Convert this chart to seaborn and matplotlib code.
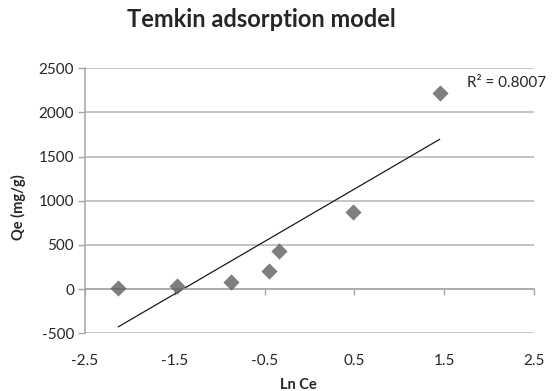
import numpy as np
import pandas as pd
import matplotlib
matplotlib.use('Agg')
import matplotlib.pyplot as plt
import seaborn as sns

# values
ln_ce = [-2.13, -1.48, -0.87, -0.45, -0.34, 0.48, 1.45]
qe = [18, 41, 86, 207, 433, 871, 2217]
r2_label = 'R² = 0.8007'
x_ticks = [-2.5, -1.5, -0.5, 0.5, 1.5, 2.5]
y_ticks = [-500, 0, 500, 1000, 1500, 2000, 2500]

df = pd.DataFrame({'Ln Ce': ln_ce, 'Qe': qe})

sns.set_style('white')
plt.rcParams['font.family'] = ['Lato', 'DejaVu Sans']

W, H = 552, 391
fig = plt.figure(figsize=(W / 100, H / 100), dpi=100)
ax = fig.add_axes([85 / W, 1 - 333.3 / H, 449 / W, 265 / H])

sns.regplot(data=df, x='Ln Ce', y='Qe', ci=None, ax=ax, marker='D',
            scatter_kws={'s': 68, 'color': '#5f5f5f', 'linewidths': 0, 'zorder': 3},
            line_kws={'color': '#1a1a1a', 'lw': 0.9, 'zorder': 2})

ax.set_xlim(-2.5, 2.5)
ax.set_ylim(-500, 2500)
ax.set_xticks(x_ticks)
ax.set_yticks(y_ticks)
ax.set_xticklabels([f'{t:g}' for t in x_ticks])
ax.set_yticklabels([str(t) for t in y_ticks])
ax.set_xlabel('')
ax.set_ylabel('')

ax.yaxis.grid(True, color='#b4b4b4', lw=1.1)
ax.set_axisbelow(True)
for s in ['top', 'right']:
    ax.spines[s].set_visible(False)
ax.spines['left'].set_color('#a6a6a6')
ax.spines['left'].set_linewidth(1.1)
ax.spines['bottom'].set_position(('data', 0))
ax.spines['bottom'].set_color('#a6a6a6')
ax.spines['bottom'].set_linewidth(1.1)

ax.tick_params(axis='y', direction='out', length=5, width=1, color='#a6a6a6',
               labelsize=11, pad=3, left=True)
ax.tick_params(axis='x', direction='out', length=4, width=1, color='#a6a6a6',
               labelsize=11, pad=43, bottom=True)

fig.text(467 / W, 1 - 87 / H, r2_label, fontsize=11, va='baseline', ha='left')

fig.text(261 / W, 1 - 27 / H, 'Temkin adsorption model', fontsize=17,
         fontweight='bold', ha='center', va='baseline')
fig.text(298 / W, 1 - 389 / H, 'Ln Ce', fontsize=10.5, fontweight='bold',
         ha='center', va='baseline')
fig.text(18 / W, 1 - 207 / H, 'Qe (mg/g)', fontsize=10.5, fontweight='bold',
         ha='center', va='center', rotation=90)

fig.savefig('out.png', dpi=100)
